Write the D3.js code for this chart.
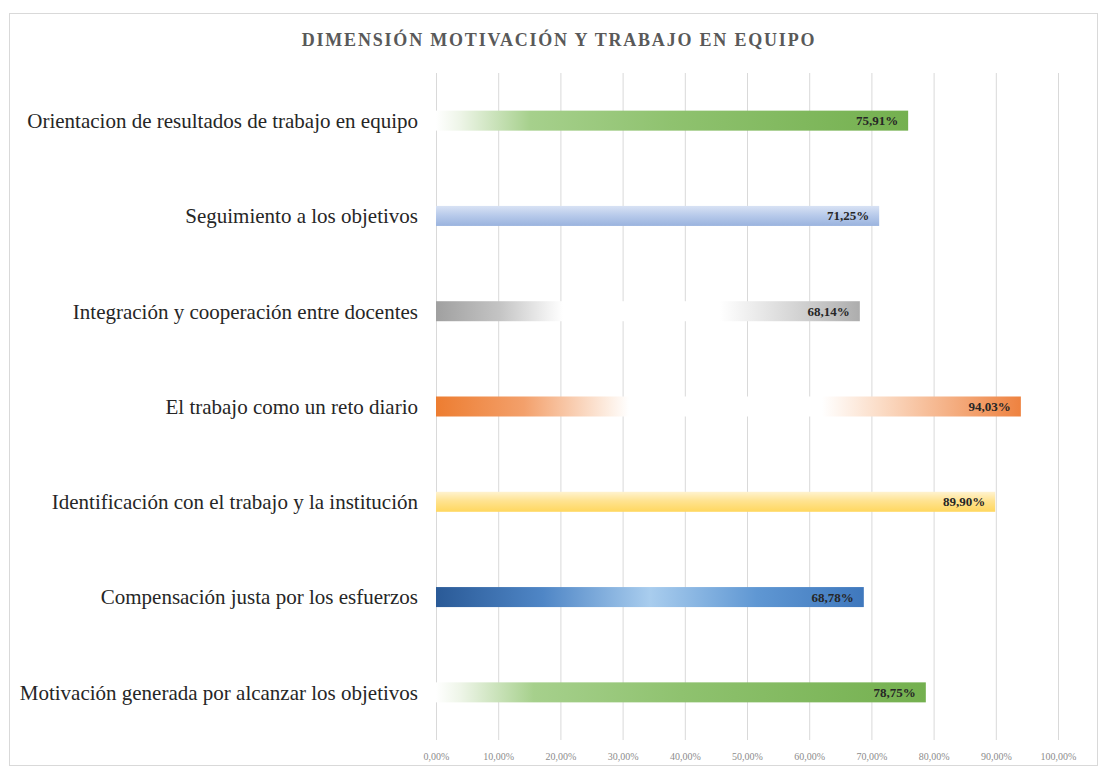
<!DOCTYPE html>
<html>
<head>
<meta charset="utf-8">
<script src="https://cdn.jsdelivr.net/npm/d3@7"></script>
<style>
  body { margin: 0; background: #fff; }
  svg { display: block; }
</style>
</head>
<body>
<div id="chart"></div>
<script>
// data
var title = "DIMENSIÓN MOTIVACIÓN Y TRABAJO EN EQUIPO";
var categories = [
  "Orientacion de resultados de trabajo en equipo",
  "Seguimiento a los objetivos",
  "Integración y cooperación entre docentes",
  "El trabajo como un reto diario",
  "Identificación con el trabajo y la institución",
  "Compensación justa por los esfuerzos",
  "Motivación generada por alcanzar los objetivos"
];
var values = [75.91, 71.25, 68.14, 94.03, 89.90, 68.78, 78.75];
var tickValues = [0, 10, 20, 30, 40, 50, 60, 70, 80, 90, 100];

// fills, one per bar (style only)
var fills = [
  { dir: "h", stops: [[0, "#ffffff"], [0.05, "#eef5e8"], [0.2, "#a6d08c"], [0.5, "#8fc26f"], [1, "#74b04f"]] },
  { dir: "v", stops: [[0, "#d8e2f4"], [0.5, "#b6c9ea"], [1, "#9ab3de"]] },
  { dir: "h", stops: [[0, "#a0a0a0"], [0.15, "#c4c4c4"], [0.27, "#f4f4f4"], [0.3, "#ffffff"], [0.67, "#ffffff"], [0.9, "#c8c8c8"], [1, "#adadad"]] },
  { dir: "h", stops: [[0, "#ed7d31"], [0.15, "#f3a06b"], [0.3, "#fdf0e6"], [0.33, "#ffffff"], [0.66, "#ffffff"], [0.76, "#fbdcc6"], [1, "#ee8240"]] },
  { dir: "v", stops: [[0, "#fff3d0"], [0.45, "#ffe391"], [1, "#ffd75e"]] },
  { dir: "h", stops: [[0, "#2a5a97"], [0.25, "#4f86c6"], [0.5, "#a9cdee"], [0.75, "#5f97d3"], [1, "#3f78bd"]] },
  { dir: "h", stops: [[0, "#ffffff"], [0.05, "#eef5e8"], [0.2, "#a6d08c"], [0.5, "#8fc26f"], [1, "#74b04f"]] }
];

var width = 1104, height = 774;
var serif = "'Liberation Serif', 'Times New Roman', serif";

var locale = d3.formatLocale({ decimal: ",", thousands: ".", grouping: [3], currency: ["", ""] });
var pct = function(v) { return locale.format(".2f")(v) + "%"; };

var svg = d3.select("#chart").append("svg")
  .attr("width", width)
  .attr("height", height);

// frame
svg.append("rect")
  .attr("x", 9.5).attr("y", 13.5)
  .attr("width", 1088).attr("height", 752)
  .attr("fill", "#fff")
  .attr("stroke", "#d9d9d9");

var x = d3.scaleLinear().domain([0, 100]).range([436, 1058]);
var y = d3.scaleBand().domain(categories).range([73, 740])
  .paddingInner(0.79).paddingOuter(0.395);

// gradients
var defs = svg.append("defs");
fills.forEach(function(f, i) {
  var g = defs.append("linearGradient").attr("id", "fill" + i);
  if (f.dir === "v") g.attr("x1", 0).attr("y1", 0).attr("x2", 0).attr("y2", 1);
  else g.attr("x1", 0).attr("y1", 0).attr("x2", 1).attr("y2", 0);
  g.selectAll("stop").data(f.stops).enter().append("stop")
    .attr("offset", function(s) { return s[0]; })
    .attr("stop-color", function(s) { return s[1]; });
});

// title
svg.append("text")
  .attr("x", 559).attr("y", 46)
  .attr("text-anchor", "middle")
  .style("font-family", serif)
  .style("font-size", "18px")
  .style("font-weight", "bold")
  .style("letter-spacing", "1.8px")
  .attr("fill", "#595959")
  .text(title);

// gridlines
svg.append("g").selectAll("line")
  .data(tickValues)
  .enter().append("line")
  .attr("x1", function(d) { return x(d) + 0.5; })
  .attr("x2", function(d) { return x(d) + 0.5; })
  .attr("y1", 73).attr("y2", 740)
  .attr("stroke", "#d9d9d9");

// x axis labels
var xAxis = d3.axisBottom(x).tickValues(tickValues).tickSize(0).tickPadding(0)
  .tickFormat(pct);
var ax = svg.append("g").attr("transform", "translate(0,753)").call(xAxis);
ax.select(".domain").remove();
ax.selectAll("text")
  .style("font-family", serif)
  .style("font-size", "10px")
  .attr("fill", "#8c8c8c");

// bars
var rows = svg.append("g").selectAll("g")
  .data(values)
  .enter().append("g");

rows.append("rect")
  .attr("x", x(0))
  .attr("y", function(d, i) { return y(categories[i]); })
  .attr("width", function(d) { return x(d) - x(0); })
  .attr("height", y.bandwidth())
  .attr("fill", function(d, i) { return "url(#fill" + i + ")"; });

rows.append("text")
  .attr("x", function(d) { return x(d) - 10; })
  .attr("y", function(d, i) { return y(categories[i]) + y.bandwidth() / 2; })
  .attr("dy", "0.35em")
  .attr("text-anchor", "end")
  .style("font-family", serif)
  .style("font-size", "13px")
  .style("font-weight", "bold")
  .attr("fill", "#262626")
  .text(function(d) { return pct(d); });

// category labels
svg.append("g").selectAll("text")
  .data(categories)
  .enter().append("text")
  .attr("x", 418)
  .attr("y", function(d) { return y(d) + y.bandwidth() / 2; })
  .attr("dy", "0.35em")
  .attr("text-anchor", "end")
  .style("font-family", serif)
  .style("font-size", "21px")
  .attr("fill", "#262626")
  .text(function(d) { return d; });
</script>
</body>
</html>
